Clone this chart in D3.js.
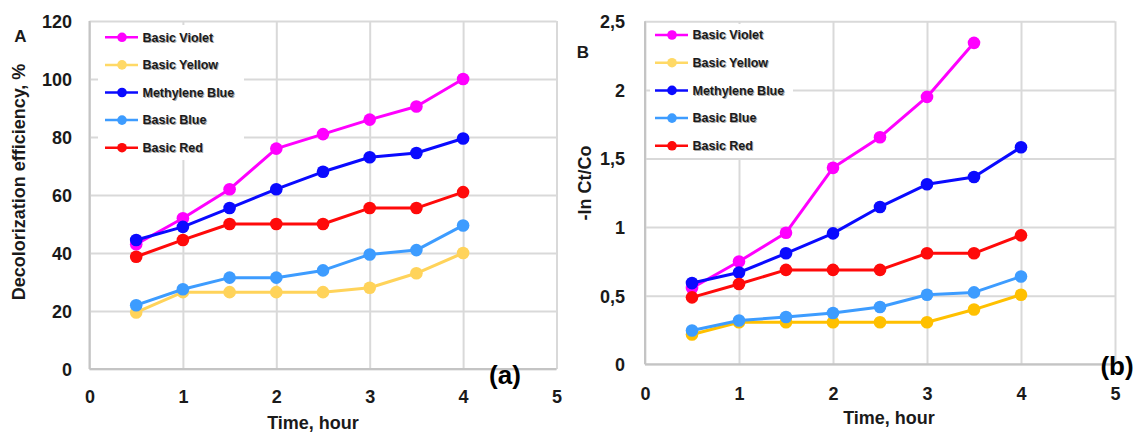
<!DOCTYPE html>
<html>
<head>
<meta charset="utf-8">
<script src="https://cdn.jsdelivr.net/npm/d3@7"></script>
<style>
  html, body { margin: 0; padding: 0; background: #ffffff; }
  svg { display: block; }
  text { font-family: "Liberation Sans", Arial, sans-serif; font-weight: bold; fill: #1a1a1a; }
</style>
</head>
<body>
<svg id="chart" width="1141" height="435"></svg>
<script>
// Sampling times, hours
const hours = [0.5, 1, 1.5, 2, 2.5, 3, 3.5, 4];
const xTicks = [0, 1, 2, 3, 4, 5];

// Dye names, in legend order
const dyeNames = ["Basic Violet", "Basic Yellow", "Methylene Blue", "Basic Blue", "Basic Red"];
const dyeColorsA = ["#ff00ff", "#ffd35a", "#0a0aff", "#3d9cff", "#ff0a0a"];
const dyeColorsB = ["#ff00ff", "#ffc000", "#0a0aff", "#3d9cff", "#ff0a0a"];
const legendColors = ["#ff00ff", "#ffd966", "#0a0aff", "#3d9cff", "#ff0a0a"];

// Panel A: decolorization efficiency, %
const effViolet   = [43, 52, 62, 76, 81, 86, 90.5, 100];
const effYellow   = [19.5, 26.5, 26.5, 26.5, 26.5, 28, 33, 40];
const effMethBlue = [44.5, 49, 55.5, 62, 68, 73, 74.5, 79.5];
const effBlue     = [22, 27.5, 31.5, 31.5, 34, 39.5, 41, 49.5];
const effRed      = [38.7, 44.5, 50, 50, 50, 55.5, 55.5, 61];
const effTicks = [0, 20, 40, 60, 80, 100, 120];

// Panel B: -ln(Ct/Co); Basic Violet has no 4 h point
const lnViolet   = [0.556, 0.749, 0.959, 1.432, 1.655, 1.949, 2.343];
const lnYellow   = [0.217, 0.307, 0.307, 0.307, 0.307, 0.307, 0.399, 0.507];
const lnMethBlue = [0.592, 0.669, 0.809, 0.954, 1.147, 1.312, 1.365, 1.582];
const lnBlue     = [0.246, 0.319, 0.345, 0.374, 0.418, 0.507, 0.524, 0.64];
const lnRed      = [0.488, 0.585, 0.688, 0.688, 0.688, 0.809, 0.809, 0.94];
const lnTicks = [0, 0.5, 1, 1.5, 2, 2.5];
const lnTickLabels = ["0", "0,5", "1", "1,5", "2", "2,5"];

const svg = d3.select("#chart");

function drawPanel(p) {
  const x = d3.scaleLinear().domain([0, 5]).range([p.left, p.right]);
  const y = d3.scaleLinear().domain(p.yDomain).range([p.bottom, p.top]);
  const g = svg.append("g");

  // vertical grid + x tick labels
  const xAxis = g.append("g")
    .attr("transform", `translate(0,${p.bottom})`)
    .call(d3.axisBottom(x).tickValues(xTicks).tickSize(-(p.bottom - p.top)).tickFormat(d3.format("d")));
  xAxis.select(".domain").remove();
  xAxis.selectAll(".tick line").attr("stroke", "#d9d9d9").attr("stroke-width", 2);
  xAxis.selectAll(".tick text")
    .attr("y", p.xLabelGap).attr("dy", "0.35em")
    .style("font-size", "18px").style("font-family", "'Liberation Sans', Arial, sans-serif")
    .style("font-weight", "bold").attr("fill", "#1a1a1a");

  // horizontal grid + y tick labels
  const yAxis = g.append("g")
    .attr("transform", `translate(${p.left},0)`)
    .call(d3.axisLeft(y).tickValues(p.yTicks).tickSize(-(p.right - p.left))
      .tickPadding(p.yLabelGap).tickFormat((d, i) => p.yTickLabels[i]));
  yAxis.select(".domain").remove();
  yAxis.selectAll(".tick line").attr("stroke", "#d9d9d9").attr("stroke-width", 2);
  yAxis.selectAll(".tick text")
    .attr("dy", "0.35em")
    .style("font-size", "18px").style("font-family", "'Liberation Sans', Arial, sans-serif")
    .style("font-weight", "bold").attr("fill", "#1a1a1a");

  // axis lines
  g.append("line").attr("x1", p.left).attr("x2", p.left).attr("y1", p.top).attr("y2", p.bottom)
    .attr("stroke", "#c4c4c4").attr("stroke-width", 2);
  g.append("line").attr("x1", p.left).attr("x2", p.right).attr("y1", p.bottom).attr("y2", p.bottom)
    .attr("stroke", "#c4c4c4").attr("stroke-width", 2);

  // legend box
  g.append("rect").attr("x", p.legend.x0).attr("y", p.legend.y0)
    .attr("width", p.legend.x1 - p.legend.x0).attr("height", p.legend.y1 - p.legend.y0)
    .attr("fill", "#ffffff");

  // series
  const line = d3.line().x(d => x(d[0])).y(d => y(d[1]));
  p.series.forEach((vals, i) => {
    const pts = vals.map((v, j) => [hours[j], v]);
    g.append("path").datum(pts).attr("d", line)
      .attr("fill", "none").attr("stroke", p.colors[i]).attr("stroke-width", 3)
      .attr("stroke-linejoin", "round");
    g.selectAll(null).data(pts).enter().append("circle")
      .attr("cx", d => x(d[0])).attr("cy", d => y(d[1])).attr("r", 6.3)
      .attr("fill", p.colors[i]);
  });

  // legend entries
  dyeNames.forEach((name, i) => {
    const ly = p.legend.rowY + i * p.legend.rowStep;
    g.append("line").attr("x1", p.legend.lineX0).attr("x2", p.legend.lineX0 + 33)
      .attr("y1", ly).attr("y2", ly).attr("stroke", legendColors[i]).attr("stroke-width", 2.5);
    g.append("circle").attr("cx", p.legend.lineX0 + 17).attr("cy", ly).attr("r", 4.8)
      .attr("fill", legendColors[i]);
    g.append("text").attr("x", p.legend.lineX0 + 38.5).attr("y", ly + 1).attr("dy", "0.35em")
      .style("font-size", "12.5px").style("fill", "#8a8a8a").attr("opacity", 0.75).text(name);
    g.append("text").attr("x", p.legend.lineX0 + 37.5).attr("y", ly).attr("dy", "0.35em")
      .style("font-size", "12.5px").style("fill", "#1a1a1a").text(name);
  });

  // axis titles
  g.append("text").attr("x", p.xTitle[0]).attr("y", p.xTitle[1]).attr("dy", "0.35em")
    .attr("text-anchor", "middle").style("font-size", "18px").text("Time, hour");
  g.append("text").attr("transform", `translate(${p.yTitle[0]},${p.yTitle[1]}) rotate(-90)`)
    .attr("dy", "0.35em").attr("text-anchor", "middle").style("font-size", "18px").text(p.yTitleText);

  // panel letters
  g.append("text").attr("x", p.letter[0]).attr("y", p.letter[1]).attr("dy", "0.35em")
    .attr("text-anchor", "middle").style("font-size", "17px").text(p.letterText);
  g.append("text").attr("x", p.tag[0]).attr("y", p.tag[1]).attr("dy", "0.35em")
    .attr("text-anchor", "middle").style("font-size", "26px").style("fill", "#000").text(p.tagText);
}

drawPanel({
  left: 89.5, right: 556.5, top: 21, bottom: 369,
  yDomain: [0, 120], yTicks: effTicks, yTickLabels: effTicks.map(String),
  xLabelGap: 27.5, yLabelGap: 17.5,
  series: [effViolet, effYellow, effMethBlue, effBlue, effRed], colors: dyeColorsA,
  legend: { x0: 98, x1: 244, y0: 25, y1: 160, lineX0: 105, rowY: 37.3, rowStep: 27.6 },
  xTitle: [313, 423], yTitle: [18.5, 182], yTitleText: "Decolorization efficiency, %",
  letter: [20.5, 36.5], letterText: "A", tag: [505, 375], tagText: "(a)"
});

drawPanel({
  left: 645, right: 1115, top: 21.3, bottom: 364.3,
  yDomain: [0, 2.5], yTicks: lnTicks, yTickLabels: lnTickLabels,
  xLabelGap: 29, yLabelGap: 20,
  series: [lnViolet, lnYellow, lnMethBlue, lnBlue, lnRed], colors: dyeColorsB,
  legend: { x0: 650, x1: 793, y0: 24, y1: 158, lineX0: 655, rowY: 35, rowStep: 27.7 },
  xTitle: [889, 418], yTitle: [585, 183], yTitleText: "-ln Ct/Co",
  letter: [583, 52], letterText: "B", tag: [1117, 366], tagText: "(b)"
});
</script>
</body>
</html>
